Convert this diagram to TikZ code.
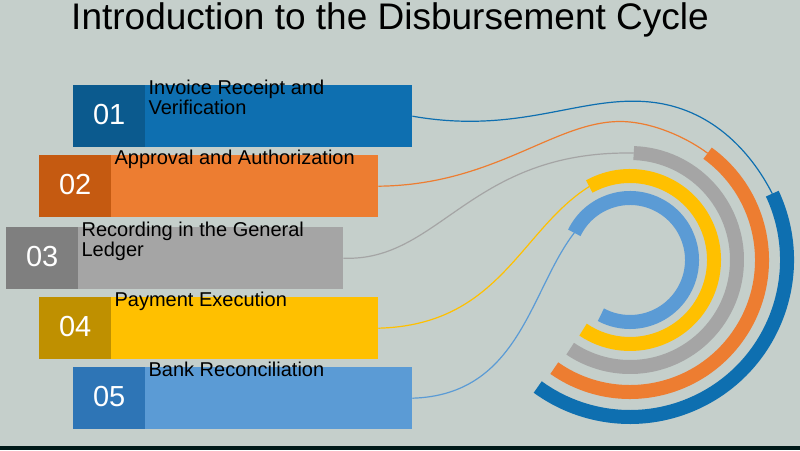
\documentclass[tikz,border=0pt]{standalone}
\usepackage{fontspec}
\setmainfont{Liberation Sans}
\begin{document}
\begin{tikzpicture}[x=1pt,y=-1pt,
  bar/.style={minimum height=62pt,inner sep=0pt,anchor=north west},
  lbl/.style={anchor=north west,font=\fontsize{20}{20}\selectfont,align=left,inner sep=0pt},
  num/.style={font=\fontsize{29}{29}\selectfont,text=white},
  ring/.style={line width=14pt},
  wire/.style={line width=1.2pt}]
\definecolor{bg}{HTML}{C5CFCB}
\definecolor{cA}{HTML}{0E6FB0}\definecolor{nA}{HTML}{0B5A8E}
\definecolor{cB}{HTML}{ED7D31}\definecolor{nB}{HTML}{C55A11}
\definecolor{cC}{HTML}{A5A5A5}\definecolor{nC}{HTML}{7F7F7F}
\definecolor{cD}{HTML}{FFC000}\definecolor{nD}{HTML}{BF9000}
\definecolor{cE}{HTML}{5B9BD5}\definecolor{nE}{HTML}{2E75B6}
\fill[bg] (0,0) rectangle (800,450);
\useasboundingbox (0,0) rectangle (800,450);
\fill[black!80!teal] (0,446) rectangle (800,450);
\node[font=\fontsize{37}{38}\selectfont] (title) at (390,20) {Introduction to the Disbursement Cycle};
% bars
\foreach \n/\x/\y/\w/\c/\d/\t in {
 01/73/85/339/cA/nA/{Invoice Receipt and\\Verification},
 02/39/155/339/cB/nB/{Approval and Authorization},
 03/6/227/337/cC/nC/{Recording in the General\\Ledger},
 04/39/297/339/cD/nD/{Payment Execution},
 05/73/367/339/cE/nE/{Bank Reconciliation}}{
 \node[bar,fill=\c,minimum width=\w pt] (b\n) at (\x,\y) {};
 \node[bar,fill=\d,minimum width=72pt] (n\n) at (\x,\y) {};
 \node[num] at ([yshift=2pt]n\n.center) {\n};
 \node[lbl] at ([xshift=3pt,yshift=5pt]n\n.north east) {\t};
}
% rings
\coordinate (c) at (630,260);
\coordinate (eA) at ([shift={(-25:157)}]c);
\coordinate (eB) at ([shift={(-54:132)}]c);
\coordinate (eC) at ([shift={(-88:107)}]c);
\coordinate (eD) at ([shift={(-119:84)}]c);
\coordinate (eE) at ([shift={(-154:62)}]c);
\draw[ring,cE] (eE) arc[start angle=-154,end angle=118,radius=62];
\draw[ring,cD] (eD) arc[start angle=-119,end angle=124,radius=84];
\draw[ring,cC] (eC) arc[start angle=-88,end angle=124,radius=107];
\draw[ring,cB] (eB) arc[start angle=-54,end angle=125,radius=132];
\draw[ring,cA] (eA) arc[start angle=-25,end angle=126,radius=157];
% wires
\draw[wire,cA] (b01.east) .. controls (520,135) and (580,95) .. (650,102) .. controls (710,108) and (750,150) .. (eA);
\draw[wire,cB] (b02.east) .. controls (500,185) and (560,115) .. (630,122) .. controls (660,125) and (690,140) .. (eB);
\draw[wire,cC] (b03.east) .. controls (440,262) and (470,150) .. (eC);
\draw[wire,cD] (b04.east) .. controls (500,325) and (520,230) .. (eD);
\draw[wire,cE] (b05.east) .. controls (520,395) and (530,290) .. (eE);
\end{tikzpicture}
\end{document}
